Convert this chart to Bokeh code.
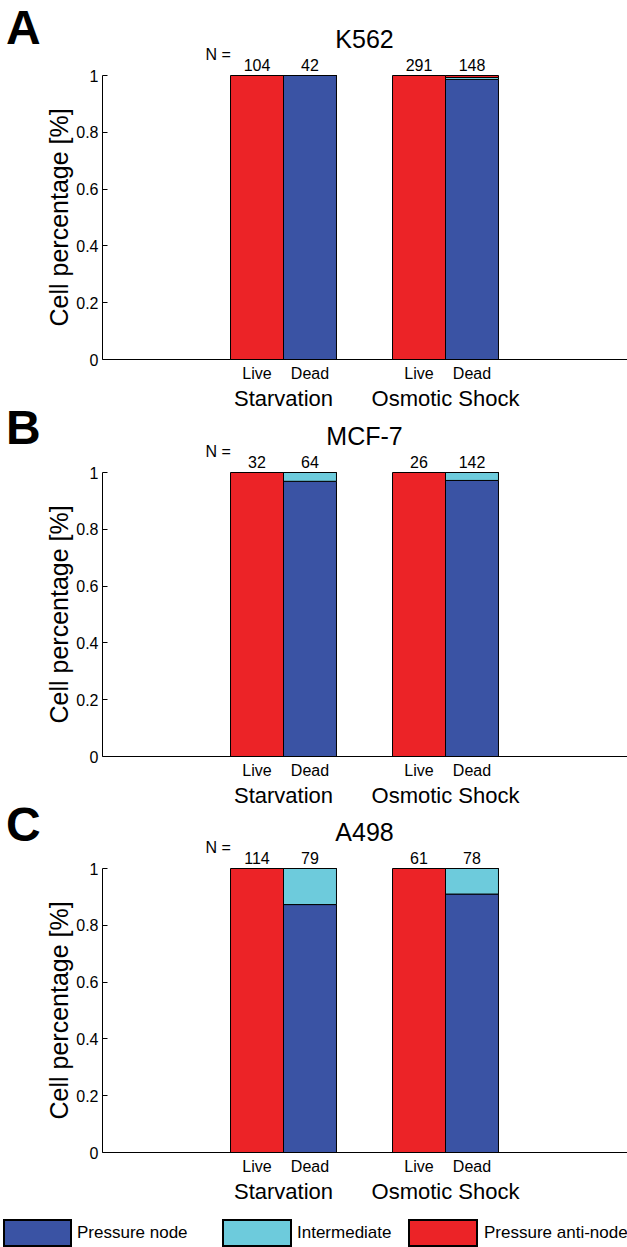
from bokeh.plotting import figure
from bokeh.models import ColumnDataSource, Range1d, FixedTicker, Label, LinearAxis, Div, Title
from bokeh.layouts import column, row
from bokeh.embed import file_html
from bokeh.resources import INLINE

# ---------------- data ----------------
groups = ["Starvation", "Osmotic Shock"]
states = ["Live", "Dead"]
series = ["Pressure node", "Intermediate", "Pressure anti-node"]
colors = ["#3A53A4", "#6DCBDC", "#EC2327"]
panel_letters = ["A", "B", "C"]
cell_lines = ["K562", "MCF-7", "A498"]

# order: Starvation Live, Starvation Dead, Osmotic Live, Osmotic Dead
k562_n = [104, 42, 291, 148]
k562_node = [0.0, 1.0, 0.0, 0.986]
k562_inter = [0.0, 0.0, 0.0, 0.007]
k562_anti = [1.0, 0.0, 1.0, 0.007]

mcf7_n = [32, 64, 26, 142]
mcf7_node = [0.0, 0.969, 0.0, 0.972]
mcf7_inter = [0.0, 0.031, 0.0, 0.028]
mcf7_anti = [1.0, 0.0, 1.0, 0.0]

a498_n = [114, 79, 61, 78]
a498_node = [0.0, 0.873, 0.0, 0.910]
a498_inter = [0.0, 0.127, 0.0, 0.090]
a498_anti = [1.0, 0.0, 1.0, 0.0]

y_ticks = [0, 0.2, 0.4, 0.6, 0.8, 1]
y_tick_labels = ["0", "0.2", "0.4", "0.6", "0.8", "1"]
y_label = "Cell percentage [%]"

# ---------------- layout ----------------
FONT = "Liberation Sans"
PAGE_W = 627
LETTER_W = 40
FIG_W = PAGE_W - LETTER_W
AXIS_X = 102                 # page x of the y axis
LEFT = AXIS_X - LETTER_W
UNIT_H = 284                 # pixels for y from 0 to 1
BOTTOM = 54
PXU = 162.0                  # pixels per x unit
X0 = 1 - (283 - AXIS_X) / PXU
X1 = X0 + (PAGE_W - AXIS_X) / PXU
group_pos = [1, 2]
bar_off = 0.1635
bar_w = 0.327
ypx = 1.0 / UNIT_H


def make_panel(letter, name, n, node, inter, anti, top, letter_lh):
    xs = [g + s * bar_off for g in group_pos for s in (-1, 1)]
    src = ColumnDataSource(dict(x=xs, node=node, inter=inter, anti=anti))
    p = figure(width=FIG_W, height=top + UNIT_H + BOTTOM,
               x_range=Range1d(X0, X1), y_range=Range1d(0, 1 + top * ypx),
               output_backend="svg", toolbar_location=None,
               min_border_left=LEFT, min_border_right=0,
               min_border_top=0, min_border_bottom=BOTTOM)
    p.outline_line_color = None
    p.xgrid.visible = False
    p.ygrid.visible = False
    p.background_fill_color = "white"
    p.border_fill_color = "white"

    p.vbar_stack(["node", "inter", "anti"], x="x", width=bar_w,
                 fill_color=colors, line_color="black", line_width=1,
                 source=src)

    xa = p.xaxis[0]
    xa.ticker = FixedTicker(ticks=xs)
    xa.major_label_overrides = {x: states[i % 2] for i, x in enumerate(xs)}
    xa.major_tick_line_color = None
    xa.minor_tick_line_color = None
    xa.major_label_standoff = -1
    xa.major_label_text_font = FONT
    xa.major_label_text_font_size = "16px"
    xa.major_label_text_color = "black"
    xa.axis_line_color = "black"

    ga = LinearAxis(ticker=FixedTicker(ticks=group_pos),
                    major_label_overrides={g: gname for g, gname in zip(group_pos, groups)})
    ga.axis_line_color = None
    ga.major_tick_line_color = None
    ga.minor_tick_line_color = None
    ga.major_label_standoff = -5
    ga.major_label_text_font = FONT
    ga.major_label_text_font_size = "22px"
    ga.major_label_text_color = "black"
    p.add_layout(ga, "below")

    ya = p.yaxis[0]
    ya.ticker = FixedTicker(ticks=y_ticks)
    ya.major_label_overrides = {t: l for t, l in zip(y_ticks, y_tick_labels)}
    ya.bounds = (0, 1)
    ya.major_tick_in = 5
    ya.major_tick_out = 0
    ya.minor_tick_line_color = None
    ya.major_label_standoff = 4
    ya.major_label_text_font = FONT
    ya.major_label_text_font_size = "16px"
    ya.major_label_text_color = "black"
    ya.axis_line_color = "black"

    # y-axis label as a left-side title so it can be centred on 0..1
    yt = Title(text=y_label, align="left", offset=33, standoff=2,
               vertical_align="bottom", text_font=FONT, text_font_size="25px",
               text_font_style="normal", text_color="black")
    p.add_layout(yt, "left")

    # title
    p.add_layout(Label(x=sum(group_pos) / 2, y=1 + 37 * ypx, text=name,
                       text_font=FONT, text_font_size="25px",
                       text_align="center", text_baseline="middle",
                       text_color="black"))
    # N =
    p.add_layout(Label(x=X0 + (205 - AXIS_X) / PXU, y=1 + 21 * ypx, text="N =",
                       text_font=FONT, text_font_size="16px",
                       text_align="left", text_baseline="middle",
                       text_color="black"))
    for x, nv in zip(xs, n):
        p.add_layout(Label(x=x, y=1 + 11 * ypx, text=str(nv),
                           text_font=FONT, text_font_size="16px",
                           text_align="center", text_baseline="middle",
                           text_color="black"))

    letter_div = Div(
        text=('<div style="font-family:\'Liberation Sans\',Arial,sans-serif;'
              'font-size:48px;font-weight:bold;color:black;'
              f'line-height:{letter_lh}px;padding-left:6px;">{letter}</div>'),
        width=LETTER_W, height=60, margin=(0, 0, 0, 0))
    return row(letter_div, p, spacing=0)


rA = make_panel(panel_letters[0], cell_lines[0], k562_n, k562_node, k562_inter, k562_anti, 75, 56)
rB = make_panel(panel_letters[1], cell_lines[1], mcf7_n, mcf7_node, mcf7_inter, mcf7_anti, 59, 30)
rC = make_panel(panel_letters[2], cell_lines[2], a498_n, a498_node, a498_inter, a498_anti, 58, 30)

# legend strip (HTML)
box_left = [3, 222, 408]
box_width = [69, 70, 70]
text_left = [77, 297, 484]
items = []
for name, col, bl, bw, tl in zip(series, colors, box_left, box_width, text_left):
    items.append(
        f'<div style="position:absolute;left:{bl}px;top:13px;width:{bw}px;height:28px;'
        f'background:{col};border:2.5px solid black;box-sizing:border-box;"></div>'
        f'<div style="position:absolute;left:{tl}px;top:13px;line-height:28px;'
        f'font-family:\'Liberation Sans\',Arial,sans-serif;font-size:17px;color:black;'
        f'white-space:nowrap;">{name}</div>')
legend_div = Div(text='<div style="position:relative;width:627px;height:41px;">'
                 + "".join(items) + '</div>',
                 width=PAGE_W, height=41, margin=(0, 0, 0, 0))

layout = column(rA, rB, rC, legend_div, spacing=0)

open("out.html", "w").write(file_html(layout, INLINE))
